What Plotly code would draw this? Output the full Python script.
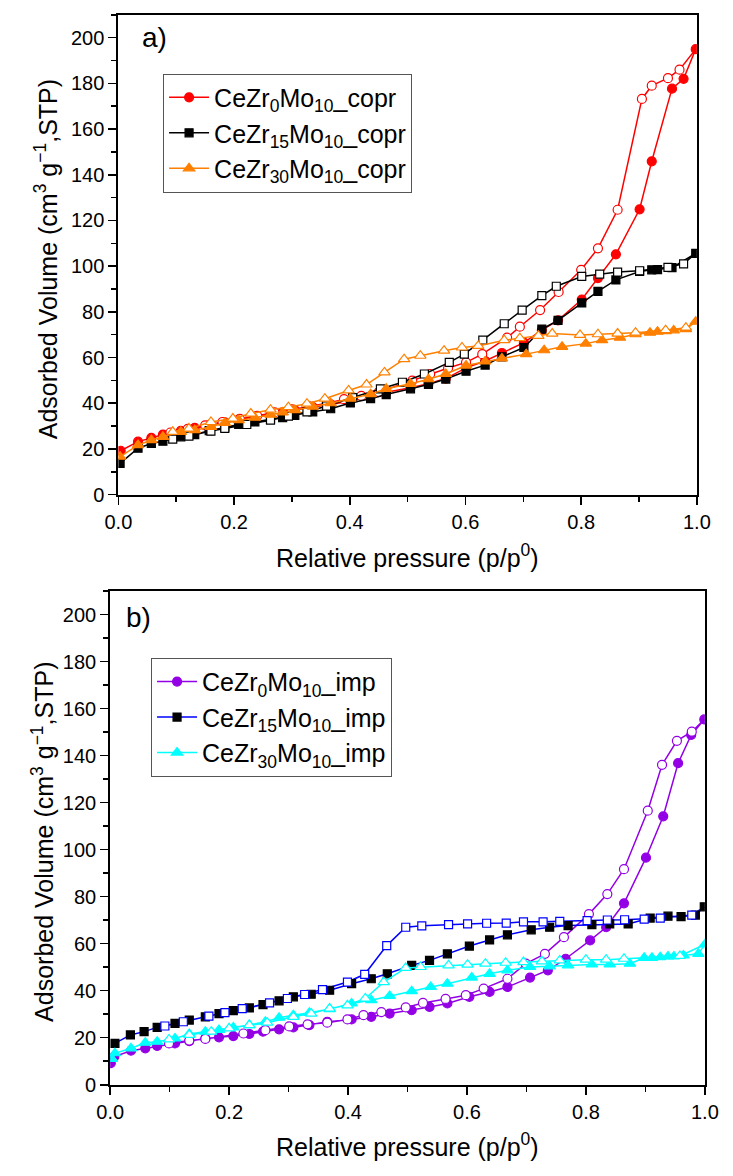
import plotly.graph_objects as go

W, H = 733, 1176

# ---------------- Panel a) co-precipitated ----------------
cz0_copr_ads_x = [0.004, 0.034, 0.057, 0.077, 0.108, 0.132, 0.157, 0.184, 0.208, 0.236, 0.263, 0.284, 0.305,
                  0.336, 0.367, 0.401, 0.436, 0.463, 0.505, 0.536, 0.566, 0.601, 0.634, 0.663, 0.701, 0.732,
                  0.760, 0.801, 0.829, 0.860, 0.901, 0.922, 0.957, 0.977, 0.998]
cz0_copr_ads_y = [19.2, 23.2, 24.8, 26.3, 27.9, 29.2, 30.4, 31.6, 32.8, 34.0, 35.0, 36.0, 37.0,
                  38.3, 39.5, 41.0, 43.0, 44.8, 46.8, 48.5, 50.8, 55.5, 58.5, 62.0, 66.5, 72.0,
                  76.3, 85.4, 94.8, 105.2, 124.9, 145.9, 177.7, 182.0, 195.0]
cz0_copr_des_x = [0.970, 0.950, 0.922, 0.905, 0.863, 0.829, 0.800, 0.761, 0.729, 0.694, 0.672, 0.629, 0.601,
                  0.570, 0.539, 0.508, 0.450, 0.420, 0.390, 0.360, 0.330, 0.300, 0.270, 0.240, 0.210, 0.180,
                  0.150, 0.120, 0.090]
cz0_copr_des_y = [186.0, 182.3, 179.0, 173.2, 124.7, 107.8, 98.4, 88.7, 80.8, 73.5, 68.7, 61.5, 57.9,
                  55.4, 52.8, 49.9, 44.9, 43.2, 41.8, 40.0, 38.6, 37.3, 36.0, 34.5, 33.2, 31.8,
                  30.3, 28.8, 27.2]

cz15_copr_ads_x = [0.003, 0.034, 0.057, 0.077, 0.108, 0.132, 0.157, 0.184, 0.208, 0.236, 0.263, 0.284, 0.305,
                   0.336, 0.367, 0.401, 0.436, 0.463, 0.505, 0.536, 0.566, 0.601, 0.634, 0.663, 0.701, 0.732,
                   0.760, 0.801, 0.829, 0.860, 0.901, 0.922, 0.932, 0.957, 0.998]
cz15_copr_ads_y = [13.7, 20.3, 22.4, 23.4, 25.3, 26.3, 28.0, 29.5, 30.7, 31.8, 33.0, 33.7, 34.7,
                   36.2, 37.6, 40.1, 42.0, 43.8, 46.3, 48.2, 50.6, 54.0, 56.7, 60.3, 64.4, 72.4,
                   76.3, 83.9, 89.0, 94.0, 97.7, 98.4, 98.5, 99.4, 105.6]
cz15_copr_des_x = [0.977, 0.950, 0.901, 0.863, 0.832, 0.801, 0.757, 0.732, 0.698, 0.667, 0.630, 0.598, 0.572,
                   0.529, 0.491, 0.453, 0.405, 0.360, 0.326, 0.294, 0.263, 0.222, 0.184, 0.160, 0.122, 0.094]
cz15_copr_des_y = [101.0, 99.5, 98.0, 97.4, 96.5, 95.5, 91.2, 87.1, 80.8, 74.8, 67.6, 61.5, 57.9,
                   52.8, 49.2, 46.3, 42.5, 38.8, 36.2, 34.4, 32.6, 30.7, 29.0, 27.8, 25.6, 24.3]

cz30_copr_ads_x = [0.003, 0.034, 0.057, 0.077, 0.108, 0.132, 0.160, 0.184, 0.208, 0.236, 0.263, 0.284, 0.305,
                   0.336, 0.367, 0.401, 0.436, 0.463, 0.505, 0.536, 0.566, 0.601, 0.634, 0.663, 0.705, 0.736,
                   0.767, 0.808, 0.836, 0.867, 0.894, 0.919, 0.932, 0.946, 0.960, 0.981, 0.998]
cz30_copr_ads_y = [16.6, 21.7, 23.9, 25.3, 27.5, 28.2, 29.7, 31.4, 32.6, 33.7, 35.0, 36.0, 37.0,
                   38.5, 40.0, 42.0, 44.0, 46.3, 48.5, 50.5, 52.8, 56.5, 58.3, 59.6, 61.5, 63.2,
                   64.7, 66.1, 67.6, 68.7, 70.2, 70.9, 71.3, 71.6, 71.9, 72.4, 75.7]
cz30_copr_des_x = [0.981, 0.946, 0.894, 0.863, 0.829, 0.798, 0.750, 0.726, 0.694, 0.667, 0.622, 0.594, 0.563,
                   0.522, 0.494, 0.460, 0.429, 0.398, 0.357, 0.326, 0.294, 0.263, 0.229, 0.198, 0.160, 0.122,
                   0.094]
cz30_copr_des_y = [73.1, 72.0, 70.9, 70.5, 70.2, 69.9, 70.5, 69.5, 68.5, 67.6, 65.1, 64.4, 63.0,
                   60.8, 59.3, 53.5, 48.2, 45.6, 42.0, 39.8, 38.3, 37.2, 35.5, 33.3, 31.8, 28.9,
                   27.5]

# ---------------- Panel b) impregnated ----------------
cz0_imp_ads_x = [0.001, 0.007, 0.035, 0.059, 0.079, 0.109, 0.133, 0.160, 0.183, 0.207, 0.234, 0.257, 0.284,
                 0.308, 0.335, 0.365, 0.406, 0.439, 0.470, 0.507, 0.537, 0.567, 0.604, 0.638, 0.668, 0.706,
                 0.736, 0.766, 0.807, 0.834, 0.864, 0.901, 0.930, 0.955, 0.977, 0.999]
cz0_imp_ads_y = [9.2, 12.0, 14.5, 15.5, 16.5, 17.6, 18.6, 19.7, 20.2, 20.7, 21.6, 22.6, 23.6,
                 24.4, 25.4, 26.8, 27.8, 28.9, 30.3, 31.7, 33.1, 34.6, 37.4, 39.5, 41.6, 45.6,
                 48.7, 53.6, 61.4, 67.0, 77.2, 96.6, 114.2, 136.8, 148.8, 155.4]
cz0_imp_des_x = [0.978, 0.953, 0.928, 0.904, 0.864, 0.836, 0.805, 0.763, 0.731, 0.699, 0.668, 0.628, 0.598,
                 0.564, 0.526, 0.497, 0.456, 0.426, 0.399, 0.365, 0.332, 0.301, 0.261, 0.224, 0.160, 0.133,
                 0.099]
cz0_imp_des_y = [150.2, 146.3, 136.1, 116.6, 91.7, 81.1, 72.6, 62.8, 55.7, 51.5, 45.1, 40.9, 38.1,
                 36.5, 34.8, 32.9, 30.9, 29.6, 27.8, 26.4, 25.7, 24.8, 23.2, 21.8, 19.5, 18.8,
                 17.6]

cz15_imp_ads_x = [0.008, 0.034, 0.057, 0.079, 0.109, 0.133, 0.160, 0.183, 0.207, 0.234, 0.257, 0.284, 0.308,
                  0.338, 0.369, 0.406, 0.439, 0.466, 0.507, 0.537, 0.567, 0.604, 0.638, 0.668, 0.708, 0.739,
                  0.770, 0.810, 0.840, 0.871, 0.908, 0.938, 0.960, 0.984, 0.999]
cz15_imp_ads_y = [17.6, 21.2, 22.6, 24.4, 26.1, 27.5, 28.9, 30.3, 31.5, 32.7, 34.1, 35.7, 37.4,
                  38.5, 40.2, 43.0, 45.1, 47.2, 50.8, 52.9, 55.7, 59.0, 61.6, 63.8, 65.9, 67.0,
                  67.7, 68.1, 68.4, 68.4, 70.9, 71.7, 71.5, 72.2, 75.7]
cz15_imp_des_x = [0.978, 0.925, 0.898, 0.865, 0.836, 0.802, 0.756, 0.728, 0.695, 0.666, 0.633, 0.601, 0.569,
                  0.524, 0.497, 0.465, 0.428, 0.399, 0.357, 0.327, 0.298, 0.268, 0.222, 0.193, 0.166, 0.123,
                  0.092]
cz15_imp_des_y = [72.2, 70.9, 70.5, 70.2, 70.1, 69.8, 69.5, 69.3, 69.3, 68.8, 68.7, 68.4, 68.1,
                  67.6, 67.0, 59.2, 47.0, 43.7, 40.5, 38.4, 36.7, 34.8, 32.4, 30.7, 29.2, 26.8,
                  25.0]

cz30_imp_ads_x = [0.003, 0.008, 0.035, 0.059, 0.079, 0.109, 0.133, 0.160, 0.183, 0.207, 0.234, 0.261, 0.284,
                  0.308, 0.335, 0.369, 0.406, 0.439, 0.470, 0.507, 0.539, 0.567, 0.608, 0.638, 0.668, 0.706,
                  0.739, 0.770, 0.810, 0.840, 0.874, 0.898, 0.911, 0.925, 0.938, 0.948, 0.964, 0.989, 1.000]
cz30_imp_ads_y = [11.0, 13.4, 15.5, 17.9, 18.3, 19.7, 21.6, 22.6, 23.3, 24.4, 25.4, 26.8, 28.5,
                  29.6, 30.6, 32.2, 34.6, 36.0, 37.8, 39.8, 41.6, 43.0, 45.6, 47.2, 48.7, 50.1,
                  50.4, 50.8, 51.2, 51.2, 51.5, 54.0, 54.0, 54.3, 54.6, 54.6, 55.0, 55.7, 59.7]
cz30_imp_des_x = [0.958, 0.864, 0.834, 0.800, 0.756, 0.726, 0.695, 0.665, 0.631, 0.601, 0.569, 0.522, 0.497,
                  0.460, 0.429, 0.399, 0.369, 0.338, 0.308, 0.264, 0.234, 0.200, 0.170, 0.133, 0.099]
cz30_imp_des_y = [54.8, 53.6, 53.2, 53.2, 52.9, 52.5, 52.2, 51.9, 51.5, 51.1, 50.8, 50.1, 49.7,
                  43.7, 36.7, 33.8, 32.4, 30.3, 28.9, 26.4, 25.4, 24.0, 22.6, 21.2, 19.3]

x_tick_vals = [0.0, 0.2, 0.4, 0.6, 0.8, 1.0]
x_tick_text = ["0.0", "0.2", "0.4", "0.6", "0.8", "1.0"]
y_tick_vals = [0, 20, 40, 60, 80, 100, 120, 140, 160, 180, 200]

FONT = "Arial, Liberation Sans, sans-serif"


def px(x):
    return x / W


def py(y):
    return 1 - y / H


def iso_trace(name, ads_x, ads_y, des_x, des_y, symbol, line_col, fill_col, open_col,
              size, xaxis, yaxis, legend):
    xs = list(ads_x) + list(des_x)
    ys = list(ads_y) + list(des_y)
    n_a, n_d = len(ads_x), len(des_x)
    colors = [fill_col] * n_a + ["white"] * n_d
    line_cols = [fill_col] * n_a + [open_col] * n_d
    return go.Scatter(
        x=xs, y=ys, mode="lines+markers", name=name,
        line=dict(color=line_col, width=1.5),
        marker=dict(symbol=symbol, size=size, color=colors,
                    line=dict(color=line_cols, width=1.2)),
        xaxis=xaxis, yaxis=yaxis, legend=legend, cliponaxis=True,
    )


fig = go.Figure()

RED, ORANGE, PURPLE, BLUE, CYAN = "#FF0000", "#FF8000", "#9400E6", "#0000FF", "#00FFFF"

fig.add_trace(iso_trace("CeZr<sub>0</sub>Mo<sub>10</sub>_copr", cz0_copr_ads_x, cz0_copr_ads_y,
                        cz0_copr_des_x, cz0_copr_des_y, "circle", RED, RED, RED, 9, "x", "y", "legend"))
fig.add_trace(iso_trace("CeZr<sub>15</sub>Mo<sub>10</sub>_copr", cz15_copr_ads_x, cz15_copr_ads_y,
                        cz15_copr_des_x, cz15_copr_des_y, "square", "black", "black", "black", 8, "x", "y", "legend"))
fig.add_trace(iso_trace("CeZr<sub>30</sub>Mo<sub>10</sub>_copr", cz30_copr_ads_x, cz30_copr_ads_y,
                        cz30_copr_des_x, cz30_copr_des_y, "triangle-up", ORANGE, ORANGE, ORANGE, 10, "x", "y", "legend"))

fig.add_trace(iso_trace("CeZr<sub>0</sub>Mo<sub>10</sub>_imp", cz0_imp_ads_x, cz0_imp_ads_y,
                        cz0_imp_des_x, cz0_imp_des_y, "circle", PURPLE, PURPLE, PURPLE, 9, "x2", "y2", "legend2"))
fig.add_trace(iso_trace("CeZr<sub>15</sub>Mo<sub>10</sub>_imp", cz15_imp_ads_x, cz15_imp_ads_y,
                        cz15_imp_des_x, cz15_imp_des_y, "square", BLUE, "black", BLUE, 8, "x2", "y2", "legend2"))
fig.add_trace(iso_trace("CeZr<sub>30</sub>Mo<sub>10</sub>_imp", cz30_imp_ads_x, cz30_imp_ads_y,
                        cz30_imp_des_x, cz30_imp_des_y, "triangle-up", CYAN, CYAN, CYAN, 10, "x2", "y2", "legend2"))

axis_common = dict(
    showline=True, linecolor="black", linewidth=2, mirror=True,
    ticks="outside", ticklen=8, tickwidth=1.5, tickcolor="black",
    showgrid=False, zeroline=False,
    tickfont=dict(family=FONT, size=20, color="black"),
)

xcommon = dict(axis_common, range=[0, 1], tickvals=x_tick_vals, ticktext=x_tick_text,
               minor=dict(ticks="outside", ticklen=5, tickwidth=1.5, tickcolor="black", dtick=0.1,
                          tick0=0, showgrid=False))
ycommon = dict(axis_common, range=[0, 210], tickvals=y_tick_vals,
               minor=dict(ticks="outside", ticklen=5, tickwidth=1.5, tickcolor="black", dtick=10,
                          tick0=0, showgrid=False))

LEG_FONT = 25
fig.update_layout(
    width=W, height=H,
    margin=dict(l=0, r=0, t=0, b=0),
    paper_bgcolor="white", plot_bgcolor="white",
    font=dict(family=FONT, color="black"),
    xaxis=dict(xcommon, domain=[px(108.5), px(710)], anchor="y"),
    yaxis=dict(ycommon, domain=[py(499.3), py(15)], anchor="x"),
    xaxis2=dict(xcommon, domain=[px(100), px(718.3)], anchor="y2"),
    yaxis2=dict(ycommon, domain=[py(1095), py(596.7)], anchor="x2"),
    legend=dict(x=px(155), y=py(74.3), xanchor="left", yanchor="top",
                bordercolor="#555555", borderwidth=1, bgcolor="white",
                font=dict(family=FONT, size=LEG_FONT, color="black"),
                itemwidth=40, tracegroupgap=0),
    legend2=dict(x=px(142.5), y=py(664), xanchor="left", yanchor="top",
                 bordercolor="#555555", borderwidth=1, bgcolor="white",
                 font=dict(family=FONT, size=LEG_FONT, color="black"),
                 itemwidth=40, tracegroupgap=0),
    showlegend=True,
    hovermode=False,
)

ytitle = "Adsorbed Volume (cm<sup>3</sup> g<sup>\u22121</sup>,STP)"
xtitle = "Relative pressure (p/p<sup>0</sup>)"
TITLE_FONT = 25
annotations = [
    dict(text="a)", x=px(131), y=py(38), xanchor="left", yanchor="middle", showarrow=False,
         font=dict(family=FONT, size=28, color="black")),
    dict(text="b)", x=px(114), y=py(623), xanchor="left", yanchor="middle", showarrow=False,
         font=dict(family=FONT, size=28, color="black")),
    dict(text=xtitle, x=px(409), y=py(561), xanchor="center", yanchor="middle", showarrow=False,
         font=dict(family=FONT, size=TITLE_FONT, color="black")),
    dict(text=xtitle, x=px(409), y=py(1156), xanchor="center", yanchor="middle", showarrow=False,
         font=dict(family=FONT, size=TITLE_FONT, color="black")),
    dict(text=ytitle, x=px(33), y=py(262), xanchor="center", yanchor="middle", showarrow=False,
         textangle=-90, font=dict(family=FONT, size=TITLE_FONT, color="black")),
    dict(text=ytitle, x=px(30), y=py(850), xanchor="center", yanchor="middle", showarrow=False,
         textangle=-90, font=dict(family=FONT, size=TITLE_FONT, color="black")),
]
for a in annotations:
    a["xref"] = "paper"
    a["yref"] = "paper"
fig.update_layout(annotations=annotations)

fig.write_html(
    "out.html",
    config={"displayModeBar": False, "staticPlot": True},
    post_script="document.body.style.margin='0';document.body.style.overflow='hidden';",
)
